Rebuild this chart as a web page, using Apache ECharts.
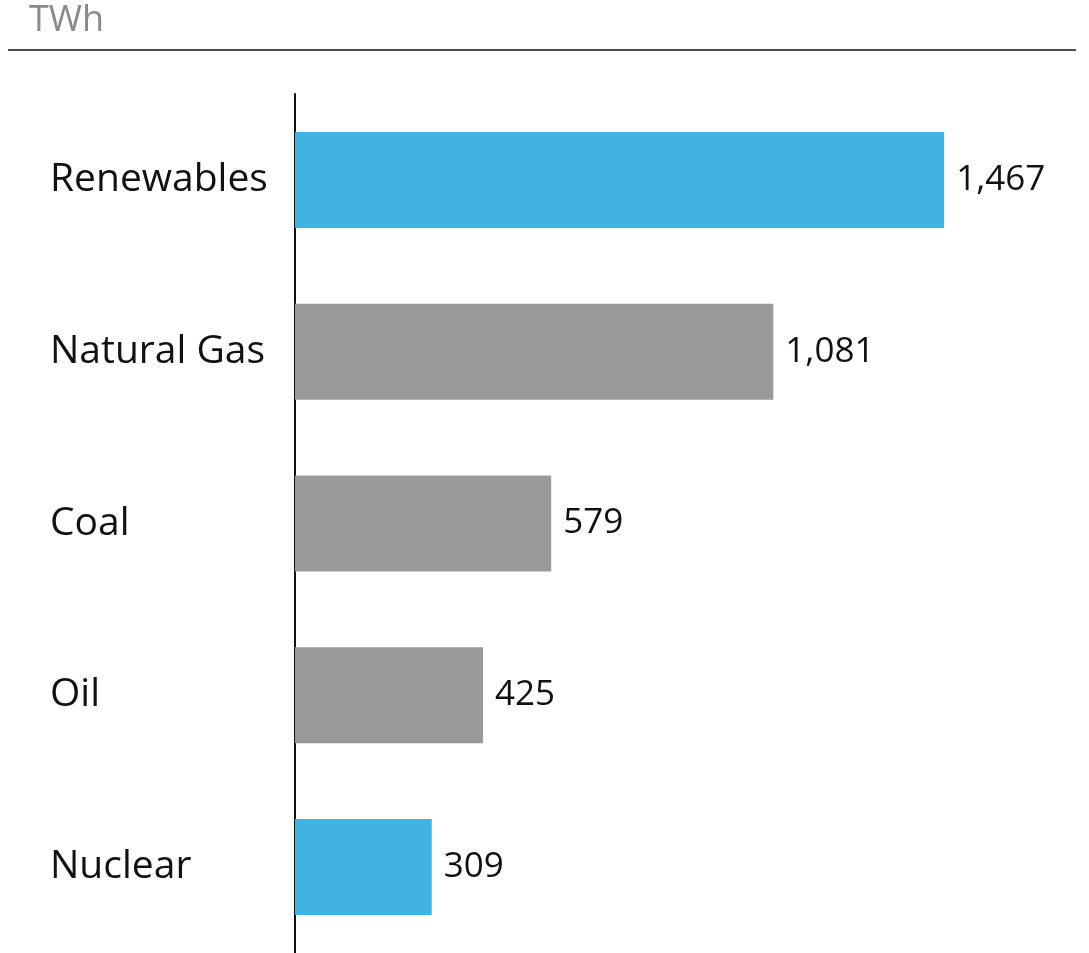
<!DOCTYPE html>
<html>
<head>
<meta charset="utf-8">
<script src="https://cdn.jsdelivr.net/npm/echarts@6/dist/echarts.min.js"></script>
<style>
  html, body { margin: 0; padding: 0; background: #fff; }
  #chart { width: 1089px; height: 953px; }
</style>
</head>
<body>
<div id="chart"></div>
<script>
const categories = ["Renewables", "Natural Gas", "Coal", "Oil", "Nuclear"];
const values = [1467, 1081, 579, 425, 309];
const highlighted = ["Renewables", "Nuclear"];

const blue = "#41b3e3";
const gray = "#999999";
const font = "Open Sans";

let myChart = echarts.init(document.getElementById("chart"));

let option = {
  textStyle: { fontFamily: font },
  title: {
    text: "TWh",
    left: 24,
    top: -2,
    textStyle: { fontSize: 36, fontWeight: "normal", color: "#8a8a8a", fontFamily: font },
  },
  graphic: [
    {
      type: "line",
      shape: { x1: 8, y1: 50, x2: 1076, y2: 50 },
      style: { stroke: "#111", lineWidth: 1.5 },
    },
  ],
  grid: { left: 295, top: 94, width: 708, height: 860 },
  xAxis: {
    type: "value",
    min: 0,
    max: 1600,
    show: false,
  },
  yAxis: {
    type: "category",
    inverse: true,
    data: categories,
    axisTick: { show: false },
    axisLine: { lineStyle: { color: "#111", width: 2 } },
    axisLabel: {
      align: "left",
      margin: 245,
      fontSize: 39,
      padding: [5, 0, 0, 0],
      color: "#111",
      fontFamily: font,
    },
  },
  series: [
    {
      type: "bar",
      barWidth: 96,
      data: values.map((v, i) => ({
        value: v,
        itemStyle: { color: highlighted.includes(categories[i]) ? blue : gray },
      })),
      label: {
        show: true,
        position: "right",
        distance: 12,
        fontSize: 35,
        padding: [4, 0, 0, 0],
        color: "#111",
        fontFamily: font,
        formatter: (p) => p.value.toLocaleString("en-US"),
      },
    },
  ],
};
myChart.setOption(option);
</script>
</body>
</html>
